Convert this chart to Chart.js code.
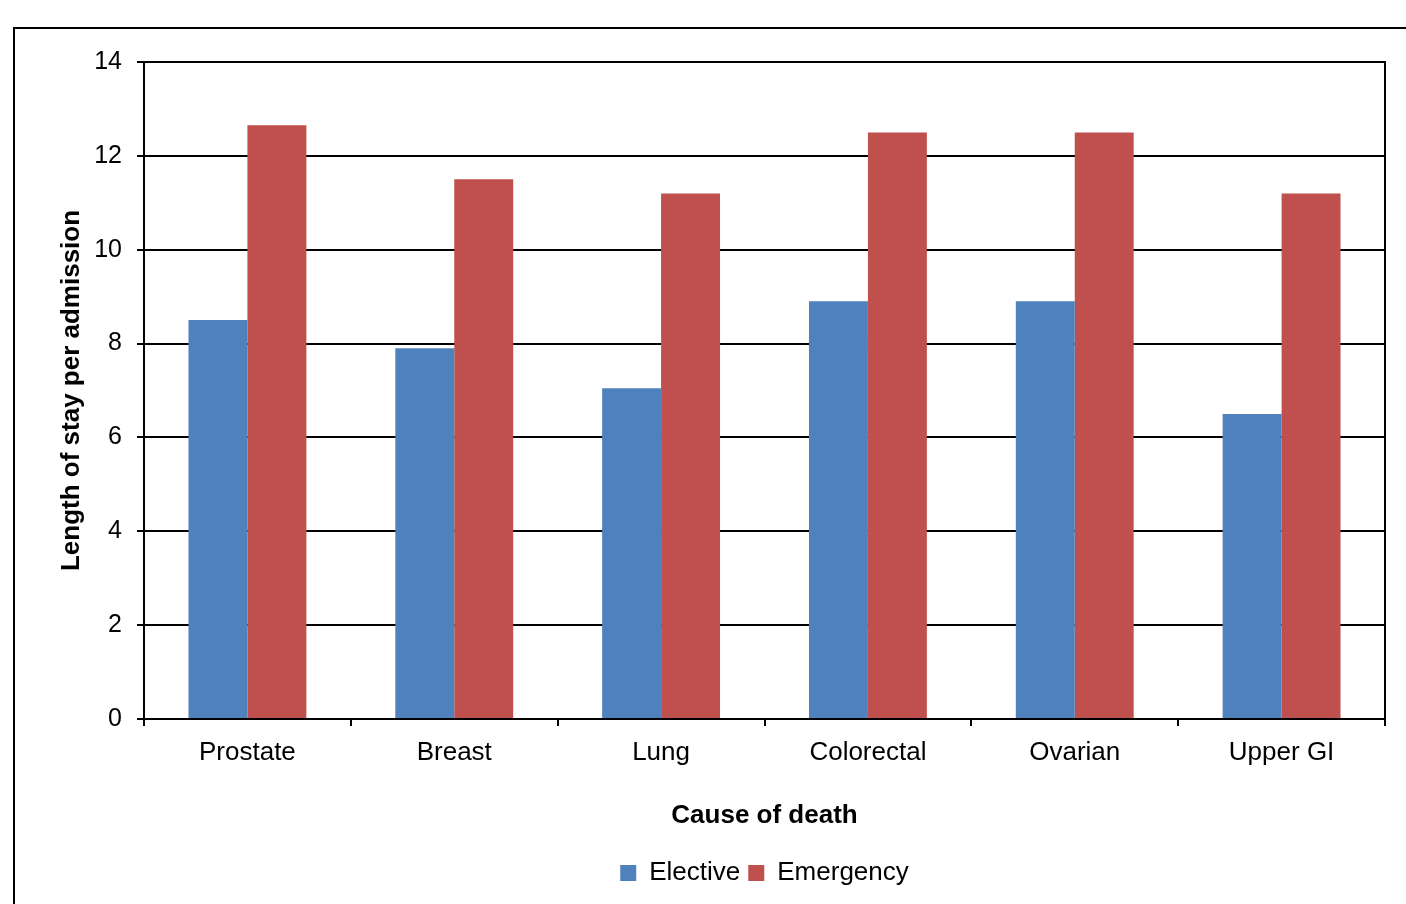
<!DOCTYPE html>
<html>
<head>
<meta charset="utf-8">
<script src="https://cdn.jsdelivr.net/npm/chart.js@4.4.1/dist/chart.umd.min.js"></script>
<style>
  html, body { margin: 0; padding: 0; background: #fff; }
  #wrap { width: 1406px; height: 904px; position: relative; }
</style>
</head>
<body>
<div id="wrap"><canvas id="c" width="1406" height="904"></canvas></div>
<script>
const categories = ["Prostate", "Breast", "Lung", "Colorectal", "Ovarian", "Upper GI"];
const electiveValues = [8.5, 7.9, 7.05, 8.9, 8.9, 6.5];
const emergencyValues = [12.65, 11.5, 11.2, 12.5, 12.5, 11.2];
const seriesNames = ["Elective", "Emergency"];
const yTicks = [0, 2, 4, 6, 8, 10, 12, 14];
const xAxisTitle = "Cause of death";
const yAxisTitle = "Length of stay per admission";

const FONT = "'Liberation Sans', Arial, sans-serif";

const framePlugin = {
  id: 'frame',
  afterDraw(chart) {
    const ctx = chart.ctx;
    const a = chart.chartArea;
    ctx.save();
    ctx.strokeStyle = '#000';
    ctx.lineWidth = 2;
    ctx.strokeRect(a.left, a.top, a.right - a.left, a.bottom - a.top);
    // outer chart frame (extends past the canvas at right/bottom)
    ctx.strokeRect(14, 28, 1420, 900);
    ctx.restore();
  }
};

new Chart(document.getElementById('c'), {
  type: 'bar',
  data: {
    labels: categories,
    datasets: [
      { label: seriesNames[0], data: electiveValues, backgroundColor: '#4F81BD', borderWidth: 0 },
      { label: seriesNames[1], data: emergencyValues, backgroundColor: '#C0504D', borderWidth: 0 }
    ]
  },
  options: {
    responsive: false,
    animation: false,
    devicePixelRatio: 1,
    layout: { padding: { top: 62, right: 21, bottom: 8, left: 0 } },
    datasets: { bar: { barPercentage: 1.0, categoryPercentage: 0.57 } },
    plugins: {
      legend: {
        position: 'bottom',
        fullSize: false,
        labels: {
          font: { family: FONT, size: 26 },
          color: '#000',
          boxWidth: 16,
          boxHeight: 16,
          padding: 8
        }
      },
      tooltip: { enabled: false }
    },
    scales: {
      x: {
        offset: true,
        grid: { display: true, drawOnChartArea: false, drawTicks: true, tickLength: 7, color: '#000', lineWidth: 2 },
        border: { display: true, color: '#000', width: 2 },
        ticks: { font: { family: FONT, size: 26 }, color: '#000', padding: 11, maxRotation: 0 },
        title: { display: true, text: xAxisTitle, font: { family: FONT, size: 26, weight: 'bold' }, color: '#000', padding: { top: 0, bottom: 21 } },
        afterFit(scale) { scale.height = 133; }
      },
      y: {
        min: 0, max: 14,
        afterBuildTicks(scale) { scale.ticks = yTicks.map(v => ({ value: v })); },
        grid: { color: '#000', lineWidth: 2, tickLength: 7, drawTicks: true },
        border: { display: true, color: '#000', width: 2 },
        ticks: { font: { family: FONT, size: 25 }, color: '#000', padding: 15 },
        title: { display: true, text: yAxisTitle, font: { family: FONT, size: 26, weight: 'bold' }, color: '#000', padding: { top: 56, bottom: 0 } },
        afterFit(scale) { scale.width = 144; }
      }
    }
  },
  plugins: [framePlugin]
});
</script>
</body>
</html>
